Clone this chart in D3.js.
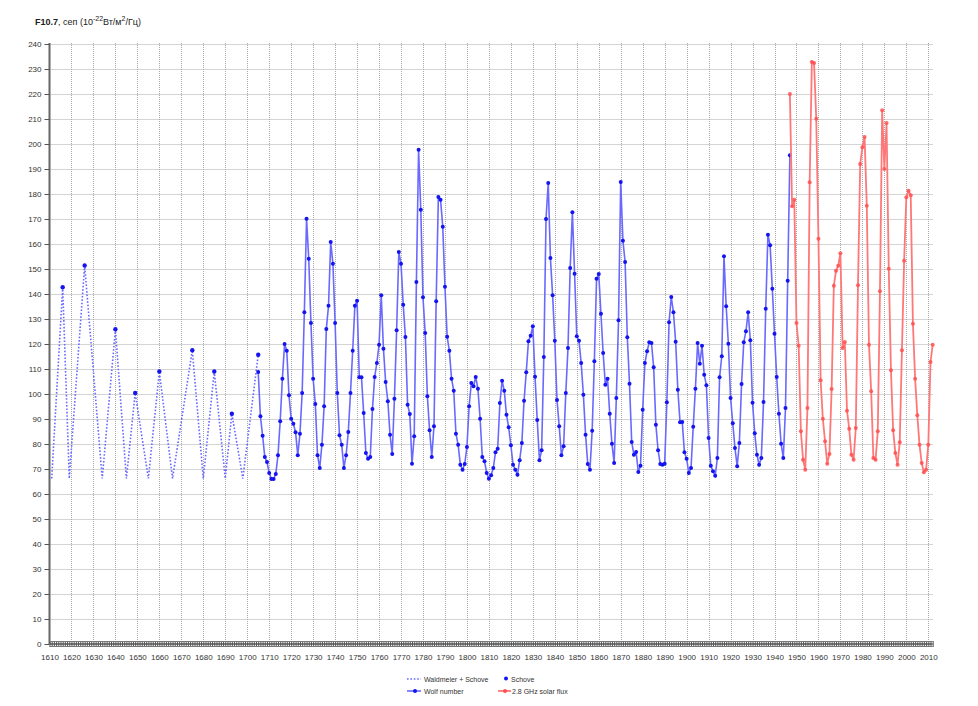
<!DOCTYPE html>
<html><head><meta charset="utf-8">
<script src="https://cdn.jsdelivr.net/npm/d3@7"></script>
<style>
body{margin:0;background:#fff}
svg{display:block}
text{font-family:"Liberation Sans Narrow","Liberation Sans",Arial,sans-serif}
</style>
</head><body><svg id="c" width="978" height="706"></svg>
<script>
// ---------- DATA ----------
const yTickValues = d3.range(0, 241, 10);
const xTickValues = d3.range(1610, 2011, 10);

// Waldmeier + Schove reconstruction (dotted)
const wsYears  = [1611,1616,1619,1626,1634,1640,1645,1649,1655,1660,1666,1675,1680,1685,1690,1693,1698,1705];
const wsValues = [66.2,142.7,66.2,151.4,66.2,125.9,66.2,100.4,66.2,109,66.2,117.5,66.2,109,66.2,92.1,66.2,115.7];

// Schove maxima (dots)
const schoveYears  = [1616,1626,1640,1649,1660,1675,1685,1693,1705];
const schoveValues = [142.7,151.4,125.9,100.4,109,117.5,109,92.1,115.7];

// Wolf number converted to F10.7, yearly from 1705
const wolfStart = 1705;
const wolfValues = [
108.8,91.1,83.3,74.8,72.8,68.4,66,66,68,75.5,
89.1,106.1,120,117.3,99.5,90.1,88.1,84.7,75.5,84.1,
100.4,132.7,170.1,154.1,128.4,106.1,96,75.5,70.4,79.7,
95.1,126,135.3,160.8,152.1,128.4,100.4,83.5,79.7,70.4,
75.5,84.8,100.4,117.3,135.3,137.3,106.7,106.7,92.4,76.4,
74.1,74.8,94,106.8,112.4,119.7,139.5,118.1,104.8,97.1,
83.7,76,98.1,125.5,156.8,152.1,135.7,122.8,95.7,92,
72.1,83.1,144.8,197.7,173.7,
138.7,124.4,99.1,85.5,74.8,87.1,137.1,178.8,177.7,166.9,
142.9,122.9,117.3,106.1,101.3,84.1,79.7,71.7,69.7,72,
78.8,95.1,104.4,103.1,106.8,102.1,90.1,74.8,73.1,68.4,
66.1,67.5,70.4,76.7,78.1,96.4,105.3,101.3,91.7,86.7,
79.5,71.7,69.7,67.7,73.5,80.4,97.3,108.7,121.1,123.3,
127.1,106.9,89.6,73.5,77.5,114.8,170,184.4,154.4,139.5,
121.3,97.6,87.1,75.5,79.1,100.4,118.4,150.4,172.7,148.1,
123.1,121.3,112.4,99.7,83.7,72,69.7,
85.3,113.1,146.1,148,132.1,116.4,103.7,106.1,92.1,80.1,
72.4,98.4,129.5,184.8,161.3,152.8,122.7,104.1,80.8,75.7,
76.8,68.8,71.3,93.7,112.4,117.1,120.7,120.4,110.7,87.7,
77.5,72,71.7,72.1,96.7,128.7,138.8,132.7,120.9,101.7,
88.7,88.8,76.7,74.1,68.4,70.4,86.9,102.1,120.4,112.1,
119.3,107.7,103.5,82.4,71.3,69.1,67.3,74.4,106.7,115.1,
155.1,135.1,120.1,98.4,88.3,78.4,71.1,80.4,104,120.7,
125.1,132.7,121.5,96.5,84.3,75.7,71.7,
74.4,96.8,134.1,163.7,159.5,142.1,124.1,106.8,92.1,80.1,74.4,94.4,145.3,195.5
];

// 2.8 GHz solar flux, yearly from 1947
const fluxStart = 1947;
const fluxValues = [
220,175.1,177.7,128.4,119.3,85.1,73.7,69.7,94.4,184.7,
232.8,232.4,210.1,162.1,105.5,90.1,81.1,72.1,76,102,
143.3,149.3,151.3,156.3,118.4,120.8,93.3,86.1,75.7,73.7,
86.4,143.5,192,198.7,202.8,175.3,119.7,101.1,74.4,73.7,
85.1,141.1,213.5,190,208.4,150.1,109.5,85.5,76.4,71.7,
80.7,117.5,153.3,178.7,181.3,179.5,128.1,106.1,91.5,79.7,
72.4,68.7,69.7,79.7,112.8,119.7
];

const legendLabels = ["Waldmeier + Schove", "Schove", "Wolf number", "2.8 GHz solar flux"];

// ---------- BUILD ----------
const ws = wsYears.map((y,i)=>({x:y, v:wsValues[i]}));
const sch = schoveYears.map((y,i)=>({x:y, v:schoveValues[i]}));
const wolf = wolfValues.map((v,i)=>({x:wolfStart+i, v}));
const flux = fluxValues.map((v,i)=>({x:fluxStart+i, v}));

const svg = d3.select("#c");
const x = d3.scaleLinear().domain([1610, 2012]).range([49.5, 49.5 + 402*2.197]);
const y = d3.scaleLinear().domain([0, 240]).range([644, 44]);
const [x0, x1] = x.range();

// grid
const grid = svg.append("g").attr("stroke", "#a8a8a8").attr("stroke-dasharray", "1 1").attr("stroke-width", 1);
grid.selectAll("line.h").data(yTickValues.filter(d=>d>0)).join("line")
  .attr("x1", x0).attr("x2", x1).attr("y1", d=>Math.round(y(d))+0.5).attr("y2", d=>Math.round(y(d))+0.5);
grid.selectAll("line.v").data(xTickValues.filter(d=>d>1610)).join("line")
  .attr("x1", d=>Math.round(x(d))+0.5).attr("x2", d=>Math.round(x(d))+0.5).attr("y1", y(240)-1).attr("y2", y(0));

// y axis
const yAxis = svg.append("g").attr("transform", `translate(${x0},0)`)
  .call(d3.axisLeft(y).tickValues(yTickValues).tickSize(5).tickPadding(3).tickFormat(d3.format("d")));
yAxis.select(".domain").attr("stroke", "#666").attr("stroke-width", 2).attr("d", `M0,${y(240)-1}V${y(0)}`);
yAxis.selectAll(".tick line").attr("stroke", "#555");
yAxis.selectAll("text").attr("font-size", 8).attr("fill", "#333");

// x axis: yearly dense ticks
const xMinor = svg.append("g").attr("transform", `translate(0,${y(0)-3})`)
  .call(d3.axisBottom(x).tickValues(d3.range(1610, 2013)).tickSize(6).tickFormat(""));
xMinor.select(".domain").remove();
xMinor.selectAll(".tick line").attr("stroke", "#555").attr("stroke-width", 1);
svg.append("line").attr("x1", x0).attr("x2", x1).attr("y1", y(0)).attr("y2", y(0)).attr("stroke", "#555").attr("stroke-width", 1.5);
svg.append("line").attr("x1", x0).attr("x2", x1).attr("y1", y(0)-2.5).attr("y2", y(0)-2.5).attr("stroke", "#777").attr("stroke-width", 1);
svg.append("line").attr("x1", x0).attr("x2", x1).attr("y1", y(0)+2.5).attr("y2", y(0)+2.5).attr("stroke", "#777").attr("stroke-width", 1);

const xAxis = svg.append("g").attr("transform", `translate(0,${y(0)})`)
  .call(d3.axisBottom(x).tickValues(xTickValues).tickSize(0).tickPadding(10).tickFormat(d3.format("d")));
xAxis.select(".domain").remove();
xAxis.selectAll("text").attr("font-size", 8).attr("fill", "#333");

// series
const line = d3.line().x(d=>x(d.x)).y(d=>y(d.v));
const blueLine = "rgb(105,105,255)";
const blueDot = "rgb(20,20,240)";
const redLine = "rgb(255,120,120)";
const redDot = "rgb(255,80,80)";

svg.append("path").datum(ws).attr("d", line).attr("fill","none")
  .attr("stroke", blueLine).attr("stroke-width", 1.6).attr("stroke-dasharray", "1.6 1.8");
svg.append("g").selectAll("circle").data(sch).join("circle")
  .attr("cx", d=>x(d.x)).attr("cy", d=>y(d.v)).attr("r", 2.2).attr("fill", blueDot);

svg.append("path").datum(wolf).attr("d", line).attr("fill","none")
  .attr("stroke", blueLine).attr("stroke-width", 1.6);
svg.append("g").selectAll("circle").data(wolf).join("circle")
  .attr("cx", d=>x(d.x)).attr("cy", d=>y(d.v)).attr("r", 2).attr("fill", blueDot);

svg.append("path").datum(flux).attr("d", line).attr("fill","none")
  .attr("stroke", redLine).attr("stroke-width", 1.8);
svg.append("g").selectAll("circle").data(flux).join("circle")
  .attr("cx", d=>x(d.x)).attr("cy", d=>y(d.v)).attr("r", 2).attr("fill", redDot).attr("fill-opacity", 0.85);

// title
const t = svg.append("text").attr("x", 35).attr("y", 25).attr("font-size", 9).attr("fill", "#222");
t.append("tspan").attr("font-weight", "bold").text("F10.7");
t.append("tspan").text(", сеп (10");
t.append("tspan").attr("dy", -4).attr("font-size", 7).text("-22");
t.append("tspan").attr("dy", 4).text("Вт/м");
t.append("tspan").attr("dy", -4).attr("font-size", 7).text("2");
t.append("tspan").attr("dy", 4).text("/Гц)");

// legend
const lg = svg.append("g").attr("font-size", 7).attr("fill", "#333");
// row 1
lg.append("line").attr("x1", 407).attr("x2", 421).attr("y1", 679).attr("y2", 679)
  .attr("stroke", blueLine).attr("stroke-width", 1.6).attr("stroke-dasharray", "1.6 1.8");
lg.append("text").attr("x", 424).attr("y", 681.5).text(legendLabels[0]);
lg.append("circle").attr("cx", 506).attr("cy", 678.5).attr("r", 2).attr("fill", blueDot);
lg.append("text").attr("x", 511).attr("y", 681.5).text(legendLabels[1]);
// row 2
lg.append("line").attr("x1", 407).attr("x2", 421).attr("y1", 691).attr("y2", 691)
  .attr("stroke", blueLine).attr("stroke-width", 1.6);
lg.append("circle").attr("cx", 415).attr("cy", 691).attr("r", 2).attr("fill", blueDot);
lg.append("text").attr("x", 424).attr("y", 693.5).text(legendLabels[2]);
lg.append("line").attr("x1", 498).attr("x2", 511).attr("y1", 691).attr("y2", 691)
  .attr("stroke", redLine).attr("stroke-width", 1.8);
lg.append("circle").attr("cx", 505).attr("cy", 691).attr("r", 2).attr("fill", redDot);
lg.append("text").attr("x", 512).attr("y", 693.5).text(legendLabels[3]);
</script></body></html>
